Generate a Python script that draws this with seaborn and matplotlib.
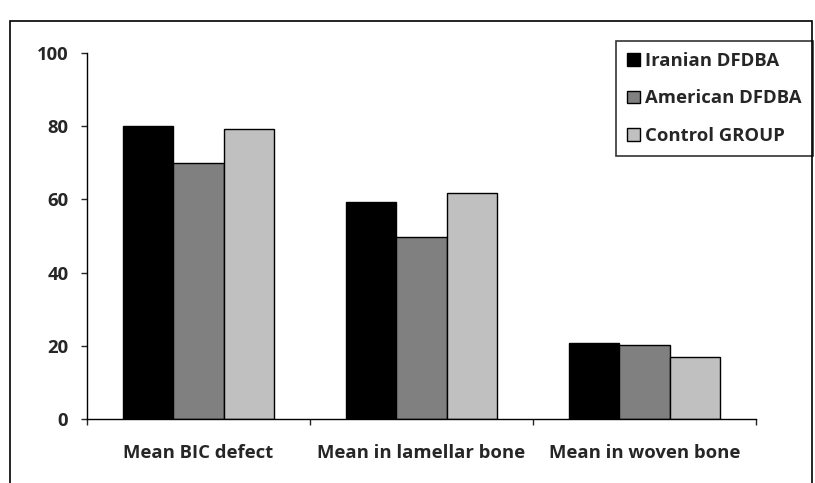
import matplotlib
matplotlib.use("Agg")
import matplotlib.pyplot as plt
import seaborn as sns
import pandas as pd
from matplotlib.patches import Rectangle

categories = ["Mean BIC defect", "Mean in lamellar bone", "Mean in woven bone"]
groups = ["Iranian DFDBA", "American DFDBA", "Control GROUP"]
iranian = [80.0, 59.2, 20.9]
american = [70.0, 49.8, 20.1]
control = [79.3, 61.8, 17.0]
colors = ["#000000", "#808080", "#c0c0c0"]
yticks = [0, 20, 40, 60, 80, 100]

rows = []
for g, vals in zip(groups, [iranian, american, control]):
    for c, v in zip(categories, vals):
        rows.append({"category": c, "group": g, "value": v})
df = pd.DataFrame(rows)

FONT = "Open Sans"
FS = 13.3

sns.set_theme(style="white")
plt.rcParams["font.family"] = [FONT, "DejaVu Sans"]
plt.rcParams["font.weight"] = "bold"

fig = plt.figure(figsize=(8.15, 4.83), dpi=100)
ax = fig.add_axes([87/815, 1-419/483, (756-87)/815, (419-53)/483])

sns.barplot(data=df, x="category", y="value", hue="group", order=categories,
            hue_order=groups, palette=colors, width=0.68, edgecolor="black",
            linewidth=1.0, saturation=1, ax=ax, legend=True)

ax.set_xlim(-0.5, 2.5)
ax.set_ylim(0, 100)
ax.set_yticks(yticks)
ax.set_yticklabels([str(t) for t in yticks], fontsize=FS, fontweight="bold")
ax.set_xlabel("")
ax.set_ylabel("")
ax.tick_params(axis="x", which="major", length=0, pad=18, labelsize=FS)
for lbl in ax.get_xticklabels():
    lbl.set_fontweight("bold")
ax.set_xticks([-0.5, 0.5, 1.5, 2.5], minor=True)
ax.tick_params(axis="x", which="minor", length=4.5, width=1, direction="out", bottom=True)
ax.tick_params(axis="y", length=4.5, width=1, direction="out", left=True, pad=9)
for s in ["top", "right"]:
    ax.spines[s].set_visible(False)
for s in ["left", "bottom"]:
    ax.spines[s].set_color("black")
    ax.spines[s].set_linewidth(1)

handles, labels = ax.get_legend_handles_labels()
leg = ax.legend(handles, labels, loc="upper right", bbox_to_anchor=(813/815, 1-41/483),
                bbox_transform=fig.transFigure, frameon=True, fancybox=False,
                edgecolor="black", prop={"family": FONT, "weight": "bold", "size": FS},
                handlelength=0.7, handleheight=0.7, handletextpad=0.3,
                labelspacing=1.05, borderpad=0.6, borderaxespad=0)
leg.get_frame().set_linewidth(1.2)
for h in leg.legend_handles:
    h.set_edgecolor("black")
    h.set_linewidth(1)

fig.add_artist(Rectangle((10/815, -0.05), 802/815, 1.05 - 21/483, transform=fig.transFigure,
                         fill=False, edgecolor="black", linewidth=1.2))

fig.savefig("out.png", dpi=100)
